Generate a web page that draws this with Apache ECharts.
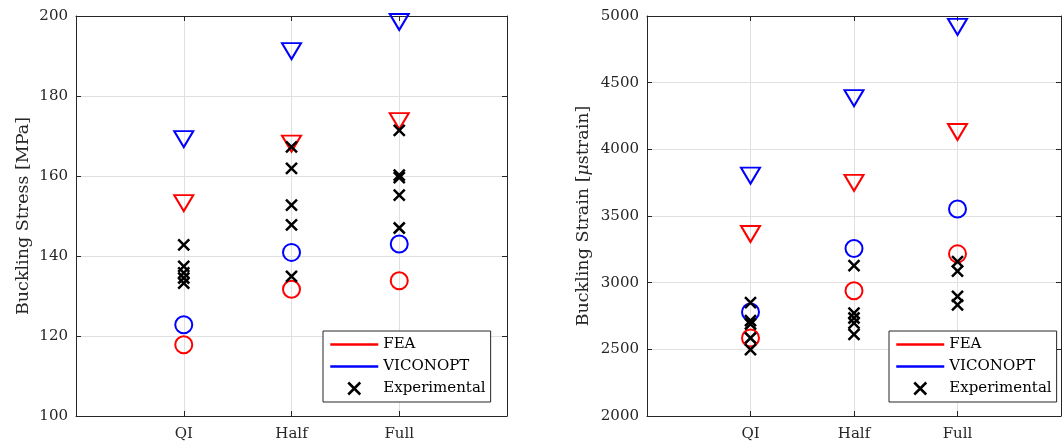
<!DOCTYPE html>
<html>
<head>
<meta charset="utf-8">
<script src="https://cdn.jsdelivr.net/npm/echarts@6/dist/echarts.min.js"></script>
<style>
  html, body { margin: 0; padding: 0; background: #ffffff; }
  #chart { width: 1064px; height: 447px; }
</style>
</head>
<body>
<div id="chart"></div>
<script>
// Panel categories (laminate configurations)
const categories = ['QI', 'Half', 'Full'];

// Buckling stress [MPa]
const stressFeaTriangle = [153.2, 168.1, 173.7];
const stressFeaCircle = [117.8, 131.7, 133.8];
const stressViconoptTriangle = [169.2, 191.2, 198.5];
const stressViconoptCircle = [122.8, 140.9, 143.0];
const stressExpQI = [142.8, 137.4, 135.8, 134.5, 133.2];
const stressExpHalf = [167.3, 161.9, 152.7, 147.8, 134.9];
const stressExpFull = [171.4, 160.2, 159.6, 155.2, 147.0];

// Buckling strain [microstrain]
const strainFeaTriangle = [3365, 3748, 4130];
const strainFeaCircle = [2585, 2939, 3216];
const strainViconoptTriangle = [3803, 4384, 4918];
const strainViconoptCircle = [2780, 3256, 3553];
const strainExpQI = [2851, 2715, 2690, 2585, 2498];
const strainExpHalf = [3128, 2772, 2735, 2697, 2612];
const strainExpFull = [3157, 3087, 2898, 2834];

const FONT = 'DejaVu Serif';
const AXIS = '#262626';
const GRID = '#e0e0e0';
const RED = '#ff0000';
const BLUE = '#0000ff';
const CLEAR = 'rgba(0,0,0,0)';

// category index 1..3 on a 0..4 value axis
const perCategory = vals => vals.map((v, i) => [i + 1, v]);
const grouped = groups => groups.flatMap((vals, i) => vals.map(v => [i + 1, v]));

const CROSS = 'path://M0,0L10,10M10,0L0,10';
// legend icons drawn inside a 48x12 frame
const LINE_ICON = 'path://M0,0M48,12M0,4.8H48V7.2H0Z';
const CROSS_ICON = 'path://M0,0M48,12M18,0L30,12M30,0L18,12';

function bottomX(gridIndex) {
  return {
    type: 'value', gridIndex, min: 0, max: 4, interval: 1, position: 'bottom',
    axisLine: { show: true, onZero: false, lineStyle: { color: AXIS, width: 1 } },
    axisTick: { show: true, inside: true, length: 5, lineStyle: { color: AXIS } },
    axisLabel: {
      formatter: v => categories[v - 1] || '',
      color: AXIS, fontFamily: FONT, fontSize: 15, margin: 11
    },
    splitLine: { show: true, lineStyle: { color: GRID, width: 1 } }
  };
}
function topX(gridIndex) {
  return {
    type: 'value', gridIndex, min: 0, max: 4, interval: 1, position: 'top',
    axisLine: { show: true, onZero: false, lineStyle: { color: AXIS, width: 1 } },
    axisTick: { show: true, inside: true, length: 5, lineStyle: { color: AXIS } },
    axisLabel: { show: false },
    splitLine: { show: false }
  };
}
function leftY(gridIndex, min, max, interval, name, gap, nameStyle) {
  return {
    type: 'value', gridIndex, min, max, interval, position: 'left',
    name, nameLocation: 'middle', nameGap: gap,
    nameTextStyle: nameStyle,
    axisLine: { show: true, onZero: false, lineStyle: { color: AXIS, width: 1 } },
    axisTick: { show: true, inside: true, length: 5, lineStyle: { color: AXIS } },
    axisLabel: {
      formatter: v => String(v),
      color: AXIS, fontFamily: FONT, fontSize: 15, margin: 8
    },
    splitLine: { show: true, lineStyle: { color: GRID, width: 1 } }
  };
}
function rightY(gridIndex, min, max, interval) {
  return {
    type: 'value', gridIndex, min, max, interval, position: 'right',
    axisLine: { show: true, onZero: false, lineStyle: { color: AXIS, width: 1 } },
    axisTick: { show: true, inside: true, length: 5, lineStyle: { color: AXIS } },
    axisLabel: { show: false },
    splitLine: { show: false }
  };
}

function triangles(name, data, axis, color) {
  return {
    type: 'scatter', name, data, xAxisIndex: axis, yAxisIndex: axis,
    symbol: 'triangle', symbolRotate: 180, symbolSize: [19, 16],
    itemStyle: { color: CLEAR, borderColor: color, borderWidth: 2, opacity: 1 },
    emphasis: { disabled: true }, z: 3
  };
}
function circles(name, data, axis, color) {
  return {
    type: 'scatter', name, data, xAxisIndex: axis, yAxisIndex: axis,
    symbol: 'circle', symbolSize: 17,
    itemStyle: { color: CLEAR, borderColor: color, borderWidth: 2, opacity: 1 },
    emphasis: { disabled: true }, z: 3
  };
}
function crosses(data, axis) {
  return {
    type: 'scatter', name: 'Experimental', data, xAxisIndex: axis, yAxisIndex: axis,
    symbol: CROSS, symbolSize: 11,
    itemStyle: { color: CLEAR, borderColor: '#000000', borderWidth: 2.5, opacity: 1 },
    emphasis: { disabled: true }, z: 4
  };
}
function legendAt(left, top) {
  return {
    orient: 'vertical', left, top,
    padding: [6, 5, 6, 6], itemWidth: 48, itemHeight: 12, itemGap: 7,
    borderColor: AXIS, borderWidth: 1, backgroundColor: '#ffffff',
    selectedMode: false,
    textStyle: { fontFamily: FONT, fontSize: 15, color: '#000000' },
    data: [
      { name: 'FEA', icon: LINE_ICON, itemStyle: { color: RED, borderWidth: 0, opacity: 1 } },
      { name: 'VICONOPT', icon: LINE_ICON, itemStyle: { color: BLUE, borderWidth: 0, opacity: 1 } },
      { name: 'Experimental', icon: CROSS_ICON,
        itemStyle: { color: CLEAR, borderColor: '#000000', borderWidth: 2.5, opacity: 1 } }
    ]
  };
}

const nameStyleStress = { fontFamily: FONT, fontSize: 17.5, color: AXIS };
const nameStyleStrain = {
  color: AXIS,
  rich: {
    n: { fontFamily: FONT, fontSize: 17.5, color: AXIS },
    i: { fontFamily: FONT, fontSize: 17.5, color: AXIS, fontStyle: 'italic' }
  }
};

const option = {
  animation: false,
  backgroundColor: '#ffffff',
  grid: [
    { left: 76, right: 557, top: 16, bottom: 31 },
    { left: 647, right: -9, top: 16, bottom: 31 }
  ],
  xAxis: [bottomX(0), bottomX(1), topX(0), topX(1)],
  yAxis: [
    leftY(0, 100, 200, 20, 'Buckling Stress [MPa]', 44, nameStyleStress),
    leftY(1, 2000, 5000, 500, '{n|Buckling Strain [}{i|μ}{n|strain]}', 55, nameStyleStrain),
    rightY(0, 100, 200, 20),
    rightY(1, 2000, 5000, 500)
  ],
  legend: [legendAt(323, 331), legendAt(889, 331)],
  series: [
    triangles('FEA', perCategory(stressFeaTriangle), 0, RED),
    circles('FEA', perCategory(stressFeaCircle), 0, RED),
    triangles('VICONOPT', perCategory(stressViconoptTriangle), 0, BLUE),
    circles('VICONOPT', perCategory(stressViconoptCircle), 0, BLUE),
    crosses(grouped([stressExpQI, stressExpHalf, stressExpFull]), 0),

    triangles('FEA', perCategory(strainFeaTriangle), 1, RED),
    circles('FEA', perCategory(strainFeaCircle), 1, RED),
    triangles('VICONOPT', perCategory(strainViconoptTriangle), 1, BLUE),
    circles('VICONOPT', perCategory(strainViconoptCircle), 1, BLUE),
    crosses(grouped([strainExpQI, strainExpHalf, strainExpFull]), 1)
  ]
};

const chart = echarts.init(document.getElementById('chart'), null, { renderer: 'canvas' });
chart.setOption(option);
</script>
</body>
</html>
